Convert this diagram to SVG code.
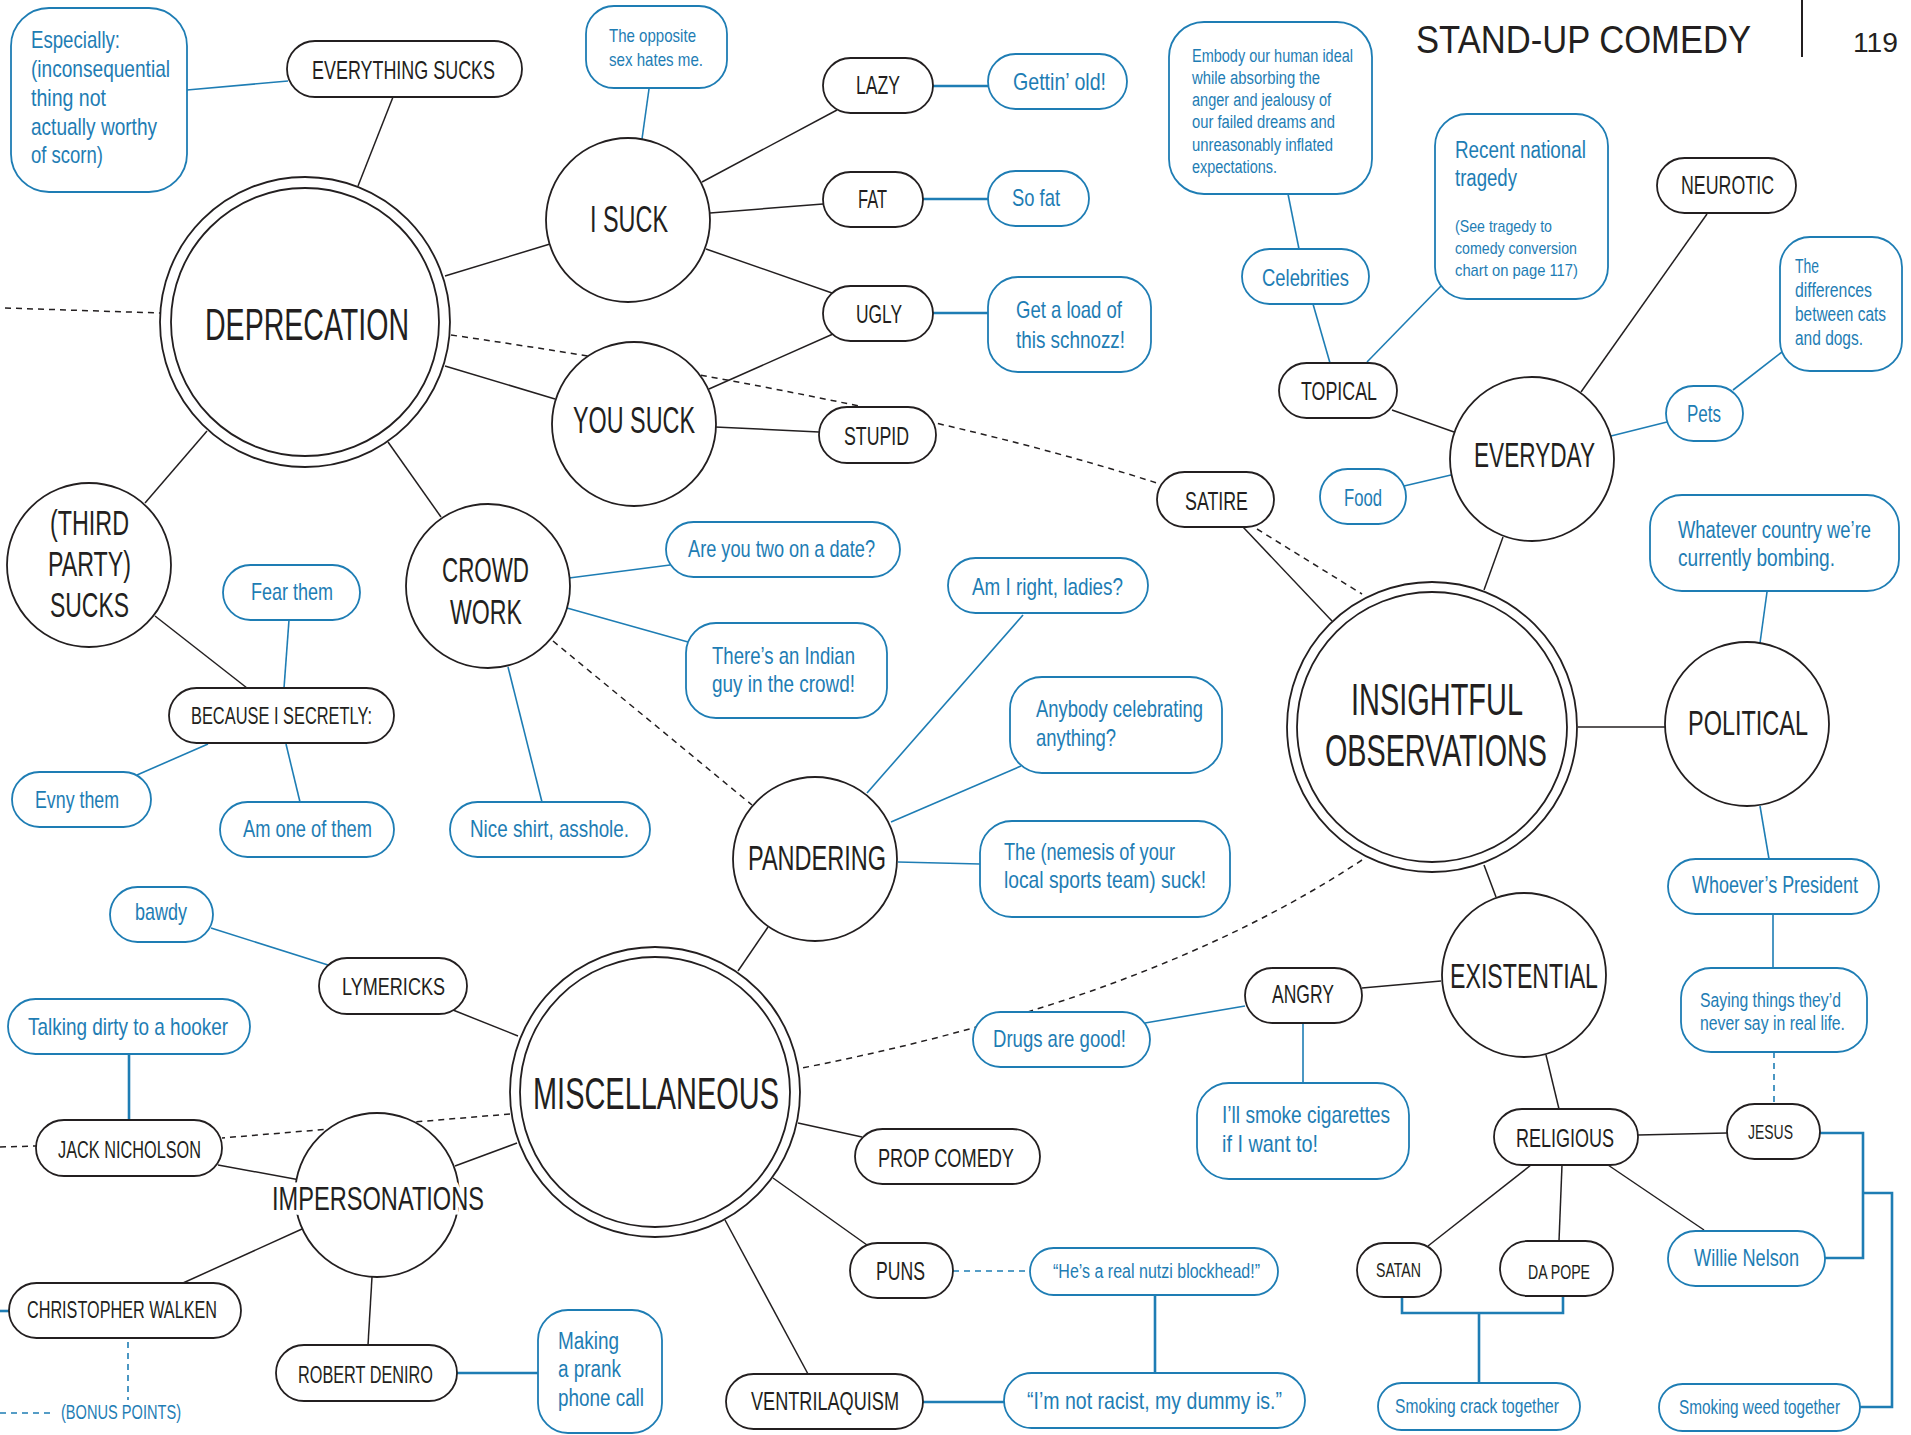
<svg xmlns="http://www.w3.org/2000/svg" width="1911" height="1435" viewBox="0 0 1911 1435">
<style>
text{font-family:"Liberation Sans",Arial,sans-serif}
.d{fill:#231f20}
.b{fill:#1e7db4}
.nd{fill:#fff;stroke:#231f20;stroke-width:1.8}
.nb{fill:#fff;stroke:#1e7db4;stroke-width:1.8}
.c{fill:none;stroke:#231f20;stroke-width:1.5}
.cd{fill:none;stroke:#231f20;stroke-width:1.5;stroke-dasharray:6 5}
.cb{fill:none;stroke:#1e7db4;stroke-width:1.6}
.cbt{fill:none;stroke:#1e7db4;stroke-width:2.6}
.cbd{fill:none;stroke:#1e7db4;stroke-width:1.6;stroke-dasharray:6 5}
</style>
<rect x="0" y="0" width="1911" height="1435" fill="#fff"/>

<g id="header">
<text class="d" x="1416" y="53" font-size="38" textLength="335" lengthAdjust="spacingAndGlyphs">STAND-UP COMEDY</text>
<line x1="1802" y1="0" x2="1802" y2="57" stroke="#231f20" stroke-width="2"/>
<text class="d" x="1853" y="52" font-size="28" textLength="45" lengthAdjust="spacingAndGlyphs">119</text>
</g>

<g id="connectors">
<!-- dark solid -->
<line class="c" x1="393" y1="97" x2="358" y2="186"/>
<line class="c" x1="445" y1="276" x2="550" y2="244"/>
<line class="c" x1="445" y1="366" x2="555" y2="399"/>
<line class="c" x1="702" y1="182" x2="837" y2="110"/>
<line class="c" x1="710" y1="213" x2="823" y2="204"/>
<line class="c" x1="706" y1="249" x2="832" y2="293"/>
<line class="c" x1="709" y1="389" x2="833" y2="334"/>
<line class="c" x1="715" y1="427" x2="819" y2="432"/>
<line class="c" x1="207" y1="431" x2="145" y2="503"/>
<line class="c" x1="155" y1="616" x2="247" y2="688"/>
<line class="c" x1="388" y1="442" x2="441" y2="517"/>
<line class="c" x1="768" y1="927" x2="738" y2="971"/>
<line class="c" x1="1243" y1="527" x2="1332" y2="621"/>
<line class="c" x1="1578" y1="727" x2="1665" y2="727"/>
<line class="c" x1="1484" y1="590" x2="1503" y2="537"/>
<line class="c" x1="1484" y1="865" x2="1496" y2="897"/>
<line class="c" x1="1392" y1="410" x2="1454" y2="432"/>
<line class="c" x1="1581" y1="392" x2="1707" y2="214"/>
<line class="c" x1="1362" y1="988" x2="1441" y2="981"/>
<line class="c" x1="1546" y1="1055" x2="1559" y2="1109"/>
<line class="c" x1="1638" y1="1135" x2="1727" y2="1133"/>
<line class="c" x1="1531" y1="1165" x2="1428" y2="1246"/>
<line class="c" x1="1562" y1="1165" x2="1559" y2="1241"/>
<line class="c" x1="1608" y1="1165" x2="1704" y2="1230"/>
<line class="c" x1="453" y1="1010" x2="518" y2="1036"/>
<line class="c" x1="517" y1="1143" x2="455" y2="1166"/>
<line class="c" x1="218" y1="1165" x2="300" y2="1180"/>
<line class="c" x1="302" y1="1229" x2="183" y2="1283"/>
<line class="c" x1="372" y1="1277" x2="368" y2="1345"/>
<line class="c" x1="798" y1="1123" x2="862" y2="1137"/>
<line class="c" x1="773" y1="1178" x2="867" y2="1245"/>
<line class="c" x1="725" y1="1220" x2="808" y2="1374"/>
<!-- dark dashed -->
<line class="cd" x1="5" y1="308" x2="160" y2="313"/>
<path class="cd" d="M451,335 Q900,400 1160,484"/>
<line class="cd" x1="553" y1="641" x2="752" y2="805"/>
<line class="cd" x1="1257" y1="529" x2="1362" y2="594"/>
<path class="cd" d="M1362,860 Q1150,1000 802,1068"/>
<line class="cd" x1="510" y1="1114" x2="222" y2="1138"/>
<line class="cd" x1="0" y1="1147" x2="36" y2="1146"/>
<!-- blue solid -->
<line class="cb" x1="187" y1="90" x2="288" y2="81"/>
<line class="cb" x1="649" y1="89" x2="642" y2="139"/>
<line class="cb" x1="1288" y1="194" x2="1299" y2="249"/>
<line class="cb" x1="1313" y1="304" x2="1330" y2="363"/>
<line class="cb" x1="1367" y1="362" x2="1441" y2="286"/>
<line class="cb" x1="1611" y1="436" x2="1667" y2="422"/>
<line class="cb" x1="1733" y1="390" x2="1782" y2="352"/>
<line class="cb" x1="1404" y1="486" x2="1451" y2="475"/>
<line class="cb" x1="1767" y1="592" x2="1760" y2="643"/>
<line class="cb" x1="1760" y1="806" x2="1769" y2="859"/>
<line class="cb" x1="1773" y1="914" x2="1773" y2="968"/>
<line class="cb" x1="289" y1="620" x2="284" y2="688"/>
<line class="cb" x1="208" y1="744" x2="137" y2="775"/>
<line class="cb" x1="286" y1="744" x2="300" y2="802"/>
<line class="cb" x1="211" y1="928" x2="328" y2="965"/>
<line class="cb" x1="569" y1="578" x2="670" y2="565"/>
<line class="cb" x1="567" y1="608" x2="688" y2="642"/>
<line class="cb" x1="508" y1="667" x2="542" y2="802"/>
<line class="cb" x1="867" y1="793" x2="1023" y2="615"/>
<line class="cb" x1="891" y1="822" x2="1021" y2="766"/>
<line class="cb" x1="898" y1="862" x2="980" y2="864"/>
<line class="cb" x1="1245" y1="1006" x2="1145" y2="1023"/>
<line class="cb" x1="1303" y1="1023" x2="1303" y2="1083"/>
<!-- blue thick -->
<line class="cbt" x1="933" y1="86" x2="988" y2="86"/>
<line class="cbt" x1="923" y1="199" x2="988" y2="199"/>
<line class="cbt" x1="933" y1="313" x2="988" y2="313"/>
<line class="cbt" x1="129" y1="1054" x2="129" y2="1120"/>
<line class="cbt" x1="457" y1="1373" x2="538" y2="1373"/>
<line class="cbt" x1="923" y1="1402" x2="1004" y2="1402"/>
<line class="cbt" x1="1155" y1="1295" x2="1155" y2="1373"/>
<line class="cbt" x1="0" y1="1311" x2="9" y2="1311"/>
<polyline class="cbt" points="1820,1133 1863,1133 1863,1258 1825,1258"/>
<polyline class="cbt" points="1863,1193 1892,1193 1892,1407 1860,1407"/>
<polyline class="cbt" points="1402,1297 1402,1313 1563,1313 1563,1296"/>
<line class="cbt" x1="1479" y1="1313" x2="1479" y2="1383"/>
<!-- blue dashed -->
<line class="cbd" x1="1774" y1="1052" x2="1774" y2="1104"/>
<line class="cbd" x1="953" y1="1271" x2="1030" y2="1271"/>
<line class="cbd" x1="128" y1="1342" x2="128" y2="1400"/>
<line class="cbd" x1="0" y1="1413" x2="53" y2="1413"/>
</g>

<!-- main circles -->
<g id="deprecation">
<circle class="nd" cx="305" cy="322" r="145"/><circle class="nd" cx="305" cy="322" r="134"/>
<text class="d" x="205" y="340" font-size="44" textLength="204" lengthAdjust="spacingAndGlyphs">DEPRECATION</text>
</g>
<g id="insightful">
<circle class="nd" cx="1432" cy="727" r="145"/><circle class="nd" cx="1432" cy="727" r="135"/>
<text class="d" x="1351" y="715" font-size="44" textLength="172" lengthAdjust="spacingAndGlyphs">INSIGHTFUL</text>
<text class="d" x="1325" y="766" font-size="44" textLength="222" lengthAdjust="spacingAndGlyphs">OBSERVATIONS</text>
</g>
<g id="miscellaneous">
<circle class="nd" cx="655" cy="1092" r="145"/><circle class="nd" cx="655" cy="1092" r="135"/>
<text class="d" x="533" y="1109" font-size="44" textLength="246" lengthAdjust="spacingAndGlyphs">MISCELLANEOUS</text>
</g>

<g id="i-suck"><circle class="nd" cx="628" cy="220" r="82"/>
<text class="d" x="590" y="232" font-size="36" textLength="78" lengthAdjust="spacingAndGlyphs">I SUCK</text></g>
<g id="you-suck"><circle class="nd" cx="634" cy="424" r="82"/>
<text class="d" x="573" y="433" font-size="36" textLength="122" lengthAdjust="spacingAndGlyphs">YOU SUCK</text></g>
<g id="third-party"><circle class="nd" cx="89" cy="565" r="82"/>
<text class="d" x="50" y="535" font-size="35" textLength="79" lengthAdjust="spacingAndGlyphs">(THIRD</text>
<text class="d" x="48" y="576" font-size="35" textLength="83" lengthAdjust="spacingAndGlyphs">PARTY)</text>
<text class="d" x="50" y="617" font-size="35" textLength="79" lengthAdjust="spacingAndGlyphs">SUCKS</text></g>
<g id="crowd-work"><circle class="nd" cx="488" cy="586" r="82"/>
<text class="d" x="442" y="582" font-size="35" textLength="87" lengthAdjust="spacingAndGlyphs">CROWD</text>
<text class="d" x="450" y="624" font-size="35" textLength="72" lengthAdjust="spacingAndGlyphs">WORK</text></g>
<g id="pandering"><circle class="nd" cx="815" cy="859" r="82"/>
<text class="d" x="748" y="870" font-size="35" textLength="138" lengthAdjust="spacingAndGlyphs">PANDERING</text></g>
<g id="everyday"><circle class="nd" cx="1532" cy="459" r="82"/>
<text class="d" x="1474" y="467" font-size="35" textLength="121" lengthAdjust="spacingAndGlyphs">EVERYDAY</text></g>
<g id="political"><circle class="nd" cx="1747" cy="724" r="82"/>
<text class="d" x="1688" y="735" font-size="35" textLength="120" lengthAdjust="spacingAndGlyphs">POLITICAL</text></g>
<g id="existential"><circle class="nd" cx="1524" cy="975" r="82"/>
<text class="d" x="1450" y="988" font-size="35" textLength="148" lengthAdjust="spacingAndGlyphs">EXISTENTIAL</text></g>
<g id="impersonations"><circle class="nd" cx="377" cy="1195" r="82"/>
<text class="d" x="272" y="1210" font-size="33" textLength="212" lengthAdjust="spacingAndGlyphs" stroke="#fff" stroke-width="9" paint-order="stroke">IMPERSONATIONS</text></g>

<!-- dark pills -->
<g id="everything-sucks"><rect class="nd" x="287" y="41" width="235" height="56" rx="28"/>
<text class="d" x="312" y="79" font-size="26" textLength="183" lengthAdjust="spacingAndGlyphs">EVERYTHING SUCKS</text></g>
<g id="lazy"><rect class="nd" x="823" y="58" width="110" height="55" rx="27.5"/>
<text class="d" x="856" y="94" font-size="26" textLength="44" lengthAdjust="spacingAndGlyphs">LAZY</text></g>
<g id="fat"><rect class="nd" x="823" y="172" width="100" height="55" rx="27.5"/>
<text class="d" x="858" y="208" font-size="26" textLength="29" lengthAdjust="spacingAndGlyphs">FAT</text></g>
<g id="ugly"><rect class="nd" x="823" y="286" width="110" height="55" rx="27.5"/>
<text class="d" x="856" y="323" font-size="26" textLength="46" lengthAdjust="spacingAndGlyphs">UGLY</text></g>
<g id="stupid"><rect class="nd" x="819" y="407" width="117" height="56" rx="28"/>
<text class="d" x="844" y="445" font-size="26" textLength="65" lengthAdjust="spacingAndGlyphs">STUPID</text></g>
<g id="because"><rect class="nd" x="169" y="688" width="225" height="55" rx="27.5"/>
<text class="d" x="191" y="724" font-size="24" textLength="181" lengthAdjust="spacingAndGlyphs">BECAUSE I SECRETLY:</text></g>
<g id="satire"><rect class="nd" x="1157" y="472" width="117" height="55" rx="27.5"/>
<text class="d" x="1185" y="510" font-size="26" textLength="63" lengthAdjust="spacingAndGlyphs">SATIRE</text></g>
<g id="topical"><rect class="nd" x="1279" y="363" width="118" height="55" rx="27.5"/>
<text class="d" x="1301" y="400" font-size="26" textLength="76" lengthAdjust="spacingAndGlyphs">TOPICAL</text></g>
<g id="neurotic"><rect class="nd" x="1657" y="158" width="139" height="55" rx="27.5"/>
<text class="d" x="1681" y="194" font-size="26" textLength="93" lengthAdjust="spacingAndGlyphs">NEUROTIC</text></g>
<g id="angry"><rect class="nd" x="1245" y="968" width="117" height="55" rx="27.5"/>
<text class="d" x="1272" y="1003" font-size="26" textLength="62" lengthAdjust="spacingAndGlyphs">ANGRY</text></g>
<g id="religious"><rect class="nd" x="1494" y="1109" width="144" height="56" rx="28"/>
<text class="d" x="1516" y="1147" font-size="26" textLength="98" lengthAdjust="spacingAndGlyphs">RELIGIOUS</text></g>
<g id="jesus"><rect class="nd" x="1727" y="1104" width="93" height="55" rx="27.5"/>
<text class="d" x="1748" y="1139" font-size="21" textLength="45" lengthAdjust="spacingAndGlyphs">JESUS</text></g>
<g id="satan"><rect class="nd" x="1357" y="1243" width="84" height="54" rx="27"/>
<text class="d" x="1376" y="1277" font-size="21" textLength="45" lengthAdjust="spacingAndGlyphs">SATAN</text></g>
<g id="da-pope"><rect class="nd" x="1500" y="1241" width="113" height="55" rx="27.5"/>
<text class="d" x="1528" y="1279" font-size="21" textLength="62" lengthAdjust="spacingAndGlyphs">DA POPE</text></g>
<g id="lymericks"><rect class="nd" x="319" y="958" width="148" height="56" rx="28"/>
<text class="d" x="342" y="995" font-size="24" textLength="103" lengthAdjust="spacingAndGlyphs">LYMERICKS</text></g>
<g id="jack"><rect class="nd" x="36" y="1120" width="186" height="56" rx="28"/>
<text class="d" x="58" y="1158" font-size="24" textLength="143" lengthAdjust="spacingAndGlyphs">JACK NICHOLSON</text></g>
<g id="walken"><rect class="nd" x="9" y="1283" width="232" height="55" rx="27.5"/>
<text class="d" x="27" y="1318" font-size="24" textLength="190" lengthAdjust="spacingAndGlyphs">CHRISTOPHER WALKEN</text></g>
<g id="deniro"><rect class="nd" x="276" y="1345" width="181" height="56" rx="28"/>
<text class="d" x="298" y="1383" font-size="24" textLength="135" lengthAdjust="spacingAndGlyphs">ROBERT DENIRO</text></g>
<g id="prop-comedy"><rect class="nd" x="855" y="1129" width="185" height="55" rx="27.5"/>
<text class="d" x="878" y="1167" font-size="26" textLength="136" lengthAdjust="spacingAndGlyphs">PROP COMEDY</text></g>
<g id="puns"><rect class="nd" x="850" y="1243" width="103" height="55" rx="27.5"/>
<text class="d" x="876" y="1280" font-size="26" textLength="49" lengthAdjust="spacingAndGlyphs">PUNS</text></g>
<g id="ventrilaquism"><rect class="nd" x="726" y="1374" width="197" height="55" rx="27.5"/>
<text class="d" x="751" y="1410" font-size="26" textLength="148" lengthAdjust="spacingAndGlyphs">VENTRILAQUISM</text></g>

<!-- blue pills -->
<g id="gettin-old"><rect class="nb" x="988" y="54" width="139" height="55" rx="27.5"/>
<text class="b" x="1013" y="90" font-size="24" textLength="93" lengthAdjust="spacingAndGlyphs">Gettin’ old!</text></g>
<g id="so-fat"><rect class="nb" x="988" y="171" width="101" height="55" rx="27.5"/>
<text class="b" x="1012" y="206" font-size="24" textLength="48" lengthAdjust="spacingAndGlyphs">So fat</text></g>
<g id="celebrities"><rect class="nb" x="1242" y="249" width="127" height="55" rx="27.5"/>
<text class="b" x="1262" y="286" font-size="24" textLength="87" lengthAdjust="spacingAndGlyphs">Celebrities</text></g>
<g id="pets"><rect class="nb" x="1666" y="386" width="77" height="55" rx="27.5"/>
<text class="b" x="1687" y="422" font-size="24" textLength="34" lengthAdjust="spacingAndGlyphs">Pets</text></g>
<g id="food"><rect class="nb" x="1320" y="469" width="86" height="55" rx="27.5"/>
<text class="b" x="1344" y="506" font-size="24" textLength="38" lengthAdjust="spacingAndGlyphs">Food</text></g>
<g id="fear-them"><rect class="nb" x="223" y="565" width="137" height="55" rx="27.5"/>
<text class="b" x="251" y="600" font-size="24" textLength="82" lengthAdjust="spacingAndGlyphs">Fear them</text></g>
<g id="evny-them"><rect class="nb" x="12" y="772" width="139" height="55" rx="27.5"/>
<text class="b" x="35" y="808" font-size="24" textLength="84" lengthAdjust="spacingAndGlyphs">Evny them</text></g>
<g id="am-one"><rect class="nb" x="220" y="802" width="174" height="55" rx="27.5"/>
<text class="b" x="243" y="837" font-size="24" textLength="129" lengthAdjust="spacingAndGlyphs">Am one of them</text></g>
<g id="bawdy"><rect class="nb" x="110" y="887" width="103" height="55" rx="27.5"/>
<text class="b" x="135" y="920" font-size="24" textLength="52" lengthAdjust="spacingAndGlyphs">bawdy</text></g>
<g id="date"><rect class="nb" x="666" y="522" width="234" height="55" rx="27.5"/>
<text class="b" x="688" y="557" font-size="24" textLength="187" lengthAdjust="spacingAndGlyphs">Are you two on a date?</text></g>
<g id="nice-shirt"><rect class="nb" x="450" y="802" width="200" height="55" rx="27.5"/>
<text class="b" x="470" y="837" font-size="24" textLength="159" lengthAdjust="spacingAndGlyphs">Nice shirt, asshole.</text></g>
<g id="ladies"><rect class="nb" x="948" y="558" width="200" height="55" rx="27.5"/>
<text class="b" x="972" y="595" font-size="24" textLength="151" lengthAdjust="spacingAndGlyphs">Am I right, ladies?</text></g>
<g id="president"><rect class="nb" x="1668" y="859" width="211" height="55" rx="27.5"/>
<text class="b" x="1692" y="893" font-size="24" textLength="166" lengthAdjust="spacingAndGlyphs">Whoever’s President</text></g>
<g id="drugs"><rect class="nb" x="973" y="1012" width="177" height="55" rx="27.5"/>
<text class="b" x="993" y="1047" font-size="24" textLength="133" lengthAdjust="spacingAndGlyphs">Drugs are good!</text></g>
<g id="willie"><rect class="nb" x="1668" y="1231" width="157" height="55" rx="27.5"/>
<text class="b" x="1694" y="1266" font-size="24" textLength="105" lengthAdjust="spacingAndGlyphs">Willie Nelson</text></g>
<g id="crack"><rect class="nb" x="1378" y="1383" width="202" height="47" rx="23.5"/>
<text class="b" x="1395" y="1413" font-size="20" textLength="164" lengthAdjust="spacingAndGlyphs">Smoking crack together</text></g>
<g id="weed"><rect class="nb" x="1659" y="1384" width="201" height="47" rx="23.5"/>
<text class="b" x="1679" y="1414" font-size="20" textLength="161" lengthAdjust="spacingAndGlyphs">Smoking weed together</text></g>
<g id="hooker"><rect class="nb" x="8" y="999" width="242" height="55" rx="27.5"/>
<text class="b" x="28" y="1035" font-size="24" textLength="200" lengthAdjust="spacingAndGlyphs">Talking dirty to a hooker</text></g>
<g id="nutzi"><rect class="nb" x="1030" y="1248" width="248" height="47" rx="23.5"/>
<text class="b" x="1053" y="1278" font-size="20" textLength="207" lengthAdjust="spacingAndGlyphs">“He’s a real nutzi blockhead!”</text></g>
<g id="dummy"><rect class="nb" x="1004" y="1373" width="301" height="55" rx="27.5"/>
<text class="b" x="1027" y="1409" font-size="24" textLength="255" lengthAdjust="spacingAndGlyphs">“I’m not racist, my dummy is.”</text></g>
<g id="bonus"><text class="b" x="61" y="1419" font-size="20" textLength="120" lengthAdjust="spacingAndGlyphs">(BONUS POINTS)</text></g>

<!-- blue boxes -->
<g id="especially"><rect class="nb" x="11" y="8" width="176" height="184" rx="38"/>
<text class="b" font-size="24">
<tspan x="31" y="48" textLength="89" lengthAdjust="spacingAndGlyphs">Especially:</tspan>
</text>
<text class="b" x="31" y="77" font-size="24" textLength="139" lengthAdjust="spacingAndGlyphs">(inconsequential</text>
<text class="b" x="31" y="106" font-size="24" textLength="75" lengthAdjust="spacingAndGlyphs">thing not</text>
<text class="b" x="31" y="135" font-size="24" textLength="126" lengthAdjust="spacingAndGlyphs">actually worthy</text>
<text class="b" x="31" y="163" font-size="24" textLength="72" lengthAdjust="spacingAndGlyphs">of scorn)</text></g>
<g id="opposite-sex"><rect class="nb" x="586" y="6" width="141" height="82" rx="28"/>
<text class="b" x="609" y="42" font-size="19" textLength="87" lengthAdjust="spacingAndGlyphs">The opposite</text>
<text class="b" x="609" y="66" font-size="19" textLength="94" lengthAdjust="spacingAndGlyphs">sex hates me.</text></g>
<g id="schnozz"><rect class="nb" x="988" y="277" width="163" height="95" rx="30"/>
<text class="b" x="1016" y="318" font-size="24" textLength="106" lengthAdjust="spacingAndGlyphs">Get a load of</text>
<text class="b" x="1016" y="348" font-size="24" textLength="109" lengthAdjust="spacingAndGlyphs">this schnozz!</text></g>
<g id="embody"><rect class="nb" x="1169" y="22" width="203" height="172" rx="35"/>
<text class="b" x="1192" y="62" font-size="18" textLength="161" lengthAdjust="spacingAndGlyphs">Embody our human ideal</text>
<text class="b" x="1192" y="84" font-size="18" textLength="128" lengthAdjust="spacingAndGlyphs">while absorbing the</text>
<text class="b" x="1192" y="106" font-size="18" textLength="139" lengthAdjust="spacingAndGlyphs">anger and jealousy of</text>
<text class="b" x="1192" y="128" font-size="18" textLength="143" lengthAdjust="spacingAndGlyphs">our failed dreams and</text>
<text class="b" x="1192" y="151" font-size="18" textLength="141" lengthAdjust="spacingAndGlyphs">unreasonably inflated</text>
<text class="b" x="1192" y="173" font-size="18" textLength="85" lengthAdjust="spacingAndGlyphs">expectations.</text></g>
<g id="tragedy"><rect class="nb" x="1435" y="114" width="173" height="185" rx="32"/>
<text class="b" x="1455" y="158" font-size="23" textLength="131" lengthAdjust="spacingAndGlyphs">Recent national</text>
<text class="b" x="1455" y="186" font-size="23" textLength="62" lengthAdjust="spacingAndGlyphs">tragedy</text>
<text class="b" x="1455" y="232" font-size="17" textLength="97" lengthAdjust="spacingAndGlyphs">(See tragedy to</text>
<text class="b" x="1455" y="254" font-size="17" textLength="122" lengthAdjust="spacingAndGlyphs">comedy conversion</text>
<text class="b" x="1455" y="276" font-size="17" textLength="123" lengthAdjust="spacingAndGlyphs">chart on page 117)</text></g>
<g id="cats-dogs"><rect class="nb" x="1780" y="237" width="122" height="134" rx="30"/>
<text class="b" x="1795" y="273" font-size="20" textLength="24" lengthAdjust="spacingAndGlyphs">The</text>
<text class="b" x="1795" y="297" font-size="20" textLength="77" lengthAdjust="spacingAndGlyphs">differences</text>
<text class="b" x="1795" y="321" font-size="20" textLength="91" lengthAdjust="spacingAndGlyphs">between cats</text>
<text class="b" x="1795" y="345" font-size="20" textLength="68" lengthAdjust="spacingAndGlyphs">and dogs.</text></g>
<g id="indian"><rect class="nb" x="686" y="623" width="201" height="95" rx="30"/>
<text class="b" x="712" y="664" font-size="24" textLength="143" lengthAdjust="spacingAndGlyphs">There’s an Indian</text>
<text class="b" x="712" y="692" font-size="24" textLength="143" lengthAdjust="spacingAndGlyphs">guy in the crowd!</text></g>
<g id="celebrating"><rect class="nb" x="1010" y="677" width="212" height="96" rx="32"/>
<text class="b" x="1036" y="717" font-size="24" textLength="167" lengthAdjust="spacingAndGlyphs">Anybody celebrating</text>
<text class="b" x="1036" y="746" font-size="24" textLength="80" lengthAdjust="spacingAndGlyphs">anything?</text></g>
<g id="nemesis"><rect class="nb" x="980" y="821" width="250" height="96" rx="32"/>
<text class="b" x="1004" y="860" font-size="24" textLength="171" lengthAdjust="spacingAndGlyphs">The (nemesis of your</text>
<text class="b" x="1004" y="888" font-size="24" textLength="202" lengthAdjust="spacingAndGlyphs">local sports team) suck!</text></g>
<g id="bombing"><rect class="nb" x="1650" y="495" width="249" height="96" rx="32"/>
<text class="b" x="1678" y="538" font-size="23" textLength="193" lengthAdjust="spacingAndGlyphs">Whatever country we’re</text>
<text class="b" x="1678" y="566" font-size="23" textLength="157" lengthAdjust="spacingAndGlyphs">currently bombing.</text></g>
<g id="saying"><rect class="nb" x="1681" y="968" width="186" height="84" rx="30"/>
<text class="b" x="1700" y="1007" font-size="20" textLength="141" lengthAdjust="spacingAndGlyphs">Saying things they’d</text>
<text class="b" x="1700" y="1030" font-size="20" textLength="145" lengthAdjust="spacingAndGlyphs">never say in real life.</text></g>
<g id="cigarettes"><rect class="nb" x="1197" y="1083" width="212" height="96" rx="32"/>
<text class="b" x="1222" y="1123" font-size="24" textLength="168" lengthAdjust="spacingAndGlyphs">I’ll smoke cigarettes</text>
<text class="b" x="1222" y="1152" font-size="24" textLength="96" lengthAdjust="spacingAndGlyphs">if I want to!</text></g>
<g id="prank"><rect class="nb" x="538" y="1310" width="124" height="123" rx="30"/>
<text class="b" x="558" y="1349" font-size="23" textLength="61" lengthAdjust="spacingAndGlyphs">Making</text>
<text class="b" x="558" y="1377" font-size="23" textLength="63" lengthAdjust="spacingAndGlyphs">a prank</text>
<text class="b" x="558" y="1406" font-size="23" textLength="86" lengthAdjust="spacingAndGlyphs">phone call</text></g>
</svg>
